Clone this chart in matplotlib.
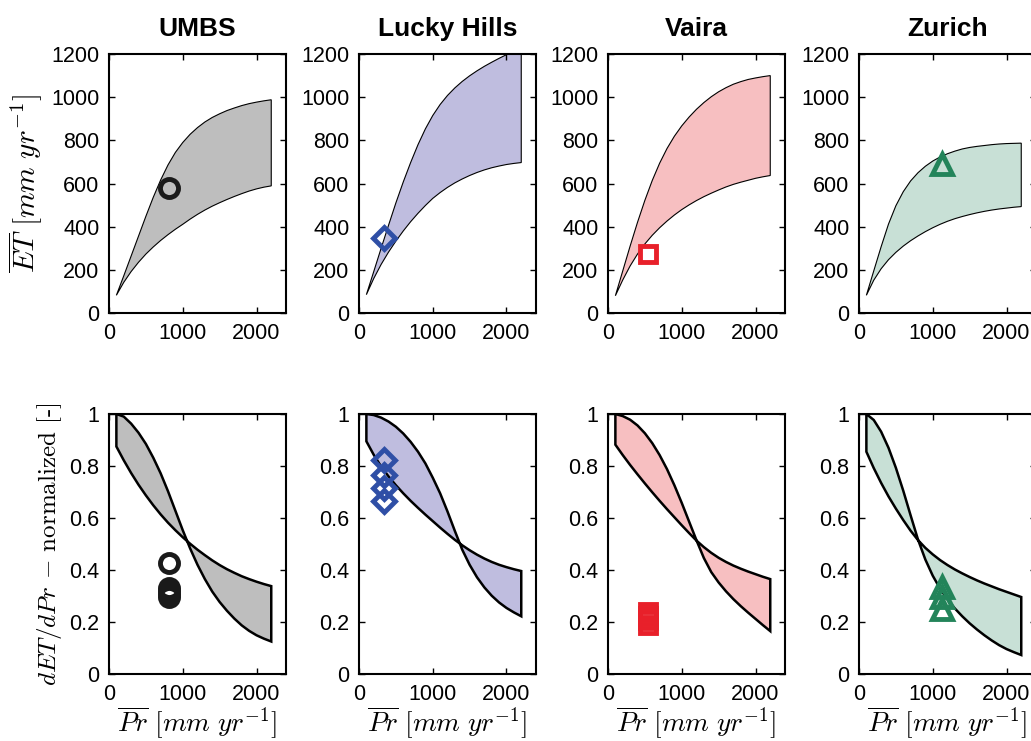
import numpy as np
import matplotlib.pyplot as plt

plt.rcParams['font.family'] = ['Liberation Sans', 'DejaVu Sans']
plt.rcParams['mathtext.fontset'] = 'cm'

# precipitazione media annua [mm/yr] su cui sono valutate le bande
pr = np.array([100, 200, 300, 400, 500, 600, 700, 800, 900, 1000, 1100,
               1200, 1300, 1400, 1500, 1600, 1700, 1800, 1900, 2000, 2100, 2200])

siti = ['UMBS', 'Lucky Hills', 'Vaira', 'Zurich']

# ET media annua: limite superiore e inferiore della banda [mm/yr]
et_sup_umbs = [82, 172, 264, 356, 448, 536, 616, 686, 744, 790, 828,
               859, 885, 906, 923, 938, 950, 961, 970, 977, 983, 988]
et_inf_umbs = [82, 142, 192, 235, 273, 306, 336, 363, 388, 411, 435,
               457, 477, 495, 511, 526, 540, 553, 565, 575, 583, 589]
et_sup_lucky = [85, 192, 300, 406, 510, 607, 697, 780, 853, 915, 966,
                1008, 1043, 1073, 1099, 1122, 1143, 1162, 1180, 1197, 1213, 1228]
et_inf_lucky = [85, 160, 225, 282, 333, 380, 423, 462, 498, 531, 558,
                582, 603, 621, 637, 651, 663, 673, 681, 688, 693, 697]
et_sup_vaira = [80, 195, 310, 420, 522, 614, 694, 762, 819, 867, 908,
                944, 975, 1002, 1025, 1044, 1060, 1072, 1082, 1089, 1095, 1100]
et_inf_vaira = [80, 153, 218, 273, 320, 360, 395, 426, 454, 479, 501,
                521, 539, 555, 570, 584, 596, 606, 615, 624, 631, 637]
et_sup_zurich = [82, 195, 307, 412, 497, 562, 612, 650, 680, 704, 723,
                 738, 750, 760, 767, 772, 776, 780, 783, 785, 786, 787]
et_inf_zurich = [82, 152, 205, 247, 281, 310, 335, 357, 377, 395, 411,
                 425, 437, 447, 456, 464, 471, 477, 482, 486, 490, 493]

# dET/dPr normalizzata: le due curve che delimitano la banda
d_sup_umbs = [1.0, 0.99, 0.963, 0.928, 0.885, 0.832, 0.772, 0.703, 0.628, 0.553, 0.483,
              0.42, 0.365, 0.317, 0.277, 0.243, 0.213, 0.187, 0.166, 0.149, 0.136, 0.125]
d_inf_umbs = [0.875, 0.822, 0.773, 0.728, 0.687, 0.649, 0.614, 0.582, 0.553, 0.526, 0.501,
              0.478, 0.457, 0.437, 0.419, 0.403, 0.389, 0.376, 0.365, 0.355, 0.346, 0.338]
d_sup_lucky = [1.0, 0.996, 0.986, 0.971, 0.951, 0.925, 0.893, 0.855, 0.81, 0.755, 0.695,
               0.625, 0.55, 0.478, 0.42, 0.372, 0.333, 0.301, 0.275, 0.254, 0.237, 0.222]
d_inf_lucky = [0.895, 0.843, 0.798, 0.76, 0.726, 0.695, 0.666, 0.639, 0.613, 0.588, 0.563,
               0.539, 0.516, 0.495, 0.476, 0.459, 0.444, 0.431, 0.42, 0.411, 0.403, 0.396]
d_sup_vaira = [1.0, 0.992, 0.978, 0.956, 0.926, 0.888, 0.842, 0.788, 0.726, 0.658, 0.586,
               0.514, 0.446, 0.392, 0.352, 0.318, 0.288, 0.261, 0.236, 0.212, 0.188, 0.165]
d_inf_vaira = [0.882, 0.842, 0.804, 0.768, 0.733, 0.699, 0.666, 0.634, 0.603, 0.572, 0.542,
               0.513, 0.488, 0.466, 0.447, 0.431, 0.417, 0.405, 0.394, 0.384, 0.374, 0.365]
d_sup_zurich = [1.0, 0.977, 0.932, 0.87, 0.793, 0.705, 0.61, 0.517, 0.44, 0.378, 0.328,
                0.287, 0.252, 0.222, 0.195, 0.171, 0.149, 0.129, 0.111, 0.096, 0.084, 0.073]
d_inf_zurich = [0.855, 0.792, 0.735, 0.683, 0.636, 0.592, 0.551, 0.515, 0.485, 0.46, 0.438,
                0.419, 0.402, 0.387, 0.373, 0.36, 0.348, 0.337, 0.326, 0.316, 0.306, 0.296]

# osservazioni dei siti
oss_pr = [813, 345, 540, 1120]
oss_et = [581, 347, 272, 690]
oss_d_umbs = [0.428, 0.33, 0.318, 0.306, 0.296]
oss_d_lucky = [0.824, 0.766, 0.715, 0.664]
oss_d_vaira = [0.238, 0.222, 0.206, 0.19]
oss_d_zurich = [0.335, 0.295, 0.25]

colori_banda = ['#bebebe', '#bfbddf', '#f7bfc1', '#c8e0d6']
colori_marker = ['#1a1a1a', '#2f4fa6', '#e8202a', '#23845a']
marker = ['o', 'D', 's', '^']
dim_marker = [13, 11.5, 11, 15]

et_sup = [et_sup_umbs, et_sup_lucky, et_sup_vaira, et_sup_zurich]
et_inf = [et_inf_umbs, et_inf_lucky, et_inf_vaira, et_inf_zurich]
d_sup = [d_sup_umbs, d_sup_lucky, d_sup_vaira, d_sup_zurich]
d_inf = [d_inf_umbs, d_inf_lucky, d_inf_vaira, d_inf_zurich]
oss_d = [oss_d_umbs, oss_d_lucky, oss_d_vaira, oss_d_zurich]

fig = plt.figure(figsize=(10.31, 7.41), dpi=100)
W, H = 1031, 741
sinistra = [109, 359, 608, 859]
largh = 177


def stile_assi(ax):
    ax.tick_params(direction='in', top=True, right=True, length=4, width=1,
                   labelsize=15.5, pad=7)
    for s in ax.spines.values():
        s.set_linewidth(1.5)


for i in range(4):
    # riga sopra: ET
    ax = fig.add_axes([sinistra[i] / W, 1 - 313 / H, largh / W, 259 / H])
    ax.fill(np.concatenate([pr, pr[::-1]]),
            np.concatenate([et_sup[i], et_inf[i][::-1]]),
            facecolor=colori_banda[i], edgecolor='k', linewidth=0.8)
    ax.plot(oss_pr[i], oss_et[i], marker=marker[i], ms=dim_marker[i],
            mfc='none', mec=colori_marker[i], mew=3.5)
    ax.set_xlim(0, 2400)
    ax.set_ylim(0, 1200)
    ax.set_xticks([0, 1000, 2000])
    ax.set_yticks(range(0, 1201, 200))
    stile_assi(ax)
    ax.set_title(siti[i], fontsize=19, fontweight='bold', pad=13)
    if i == 0:
        ax.set_ylabel(r'$\overline{ET}\ [mm\ yr^{-1}]$', fontsize=21, labelpad=4)

    # riga sotto: dET/dPr normalizzata
    ax = fig.add_axes([sinistra[i] / W, 1 - 674 / H, largh / W, 260 / H])
    ax.fill(np.concatenate([pr, pr[::-1]]),
            np.concatenate([d_sup[i], d_inf[i][::-1]]),
            facecolor=colori_banda[i], edgecolor='k', linewidth=1.8)
    ax.plot([oss_pr[i]] * len(oss_d[i]), oss_d[i], linestyle='none',
            marker=marker[i], ms=dim_marker[i], mfc='none',
            mec=colori_marker[i], mew=3.5)
    ax.set_xlim(0, 2400)
    ax.set_ylim(0, 1)
    ax.set_xticks([0, 1000, 2000])
    ax.set_yticks([0, 0.2, 0.4, 0.6, 0.8, 1])
    ax.set_yticklabels(['0', '0.2', '0.4', '0.6', '0.8', '1'])
    stile_assi(ax)
    ax.set_xlabel(r'$\overline{Pr}\ [mm\ yr^{-1}]$', fontsize=19.5, labelpad=0)
    if i == 0:
        ax.set_ylabel(r'$dET/dPr$ $-$ normalized [-]', family='cmr10',
                      fontsize=18, labelpad=4)

fig.savefig('out.png', dpi=100)
